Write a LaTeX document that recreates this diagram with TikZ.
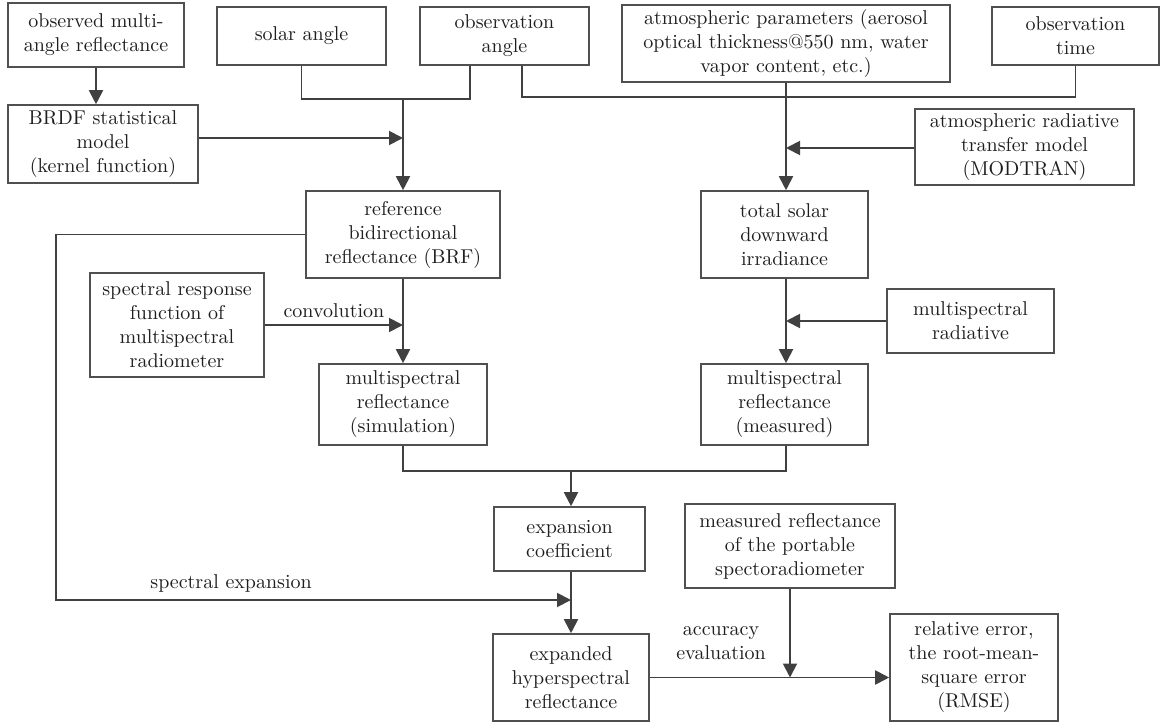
\documentclass[tikz,border=0pt]{standalone}
\usepackage{amsmath,amssymb}
\usepackage{tikz}
\usetikzlibrary{arrows.meta}
\tikzset{>={Triangle[length=7pt,width=7pt]}}
\usetikzlibrary{calc}
\definecolor{linegray}{HTML}{404040}
\definecolor{boxgray}{HTML}{505050}
\definecolor{textgray}{HTML}{1E1E1E}
\tikzset{
  box/.style={draw=boxgray, line width=0.8pt, align=center, inner sep=1pt, text=textgray},
  flow/.style={draw=linegray, line width=0.95pt},
  lbl/.style={text=textgray, align=center}
}

\begin{document}
\begin{tikzpicture}[x=0.5pt,y=-0.5pt]
    \useasboundingbox (0,0) rectangle (1167,722);
    \node[box, minimum width=88pt, minimum height=32pt] (obsrefl) at (96,35) {observed multi-\\angle reflectance};
    \node[box, minimum width=84.5pt, minimum height=29pt] (solar) at (301.5,36) {solar angle};
    \node[box, minimum width=84.5pt, minimum height=29pt] (obsang) at (504.5,36) {observation\\angle};
    \node[box, minimum width=164pt, minimum height=38.5pt] (atmpar) at (786,43.5) {atmospheric parameters (aerosol\\optical thickness@550 nm, water\\vapor content, etc.)};
    \node[box, minimum width=83.5pt, minimum height=29pt] (obstime) at (1075.5,36) {observation\\time};
    \node[box, minimum width=95pt, minimum height=39pt] (brdf) at (103,144) {BRDF statistical\\model\\(kernel function)};
    \node[box, minimum width=109.5pt, minimum height=38pt] (modtran) at (1024.5,147) {atmospheric radiative\\transfer model\\(MODTRAN)};
    \node[box, minimum width=97pt, minimum height=43.5pt] (brf) at (403,234.5) {reference\\bidirectional\\reflectance (BRF)};
    \node[box, minimum width=83.5pt, minimum height=43.5pt] (irr) at (784.5,234.5) {total solar\\downward\\irradiance};
    \node[box, minimum width=87pt, minimum height=52pt] (srf) at (177,325) {spectral response\\function of\\multispectral\\radiometer};
    \node[box, minimum width=83.5pt, minimum height=32pt] (msrad) at (970.5,321) {multispectral\\radiative};
    \node[box, minimum width=84pt, minimum height=40.5pt] (mssim) at (403,404.5) {multispectral\\reflectance\\(simulation)};
    \node[box, minimum width=83.5pt, minimum height=40.5pt] (msmeas) at (784.5,404.5) {multispectral\\reflectance\\(measured)};
    \node[box, minimum width=75.5pt, minimum height=32pt] (expcoef) at (569.5,539) {expansion\\coefficient};
    \node[box, minimum width=105pt, minimum height=42pt] (portable) at (790,546) {measured reflectance\\of the portable\\spectoradiometer};
    \node[box, minimum width=78pt, minimum height=43.5pt] (hyper) at (571,677.5) {expanded\\hyperspectral\\reflectance};
    \node[box, minimum width=84pt, minimum height=53.5pt] (rmse) at (974,667.5) {relative error,\\the root-mean-\\square error\\(RMSE)};
    \node[lbl] (acc) at (721,643) {accuracy\\evaluation};

    \coordinate (jbrf) at (403,99);
    \coordinate (jbrdf) at (403,138);
    \coordinate (jatm) at (786,97);
    \coordinate (jmod) at (786,148);
    \coordinate (jexp) at (571,471);
    \coordinate (jleft) at (56,600);
    \coordinate (jspec) at (571,600);

    \begin{scope}[flow]
      \draw[->] (obsrefl.south) -- (obsrefl.south |- brdf.north);
      \draw (solar.south) |- (jbrf) -| ($(obsang.south)+(-34.5,0)$);
      \draw[->] (jbrf) -- (brf.north);
      \draw[->] (brdf.east |- jbrdf) -- (jbrdf);
      \draw ($(obsang.south)+(17.5,0)$) |- (jatm) -| (obstime.south);
      \draw[->] (atmpar.south) -- (atmpar.south |- irr.north);
      \draw[->] (modtran.west |- jmod) -- (jmod);
      \draw[->] (brf.south) -- (mssim.north);
      \draw[->] (srf.east) -- (srf.east -| brf.south) node[midway, above, lbl]{convolution};
      \draw[->] (irr.south -| jatm) -- (jatm |- msmeas.north);
      \draw[->] (msrad.west) -- (msrad.west -| jatm);
      \draw (mssim.south) |- (jexp) -| (msmeas.south -| jatm);
      \draw[->] (jexp) -- (jexp |- expcoef.north);
      \draw (jexp |- expcoef.south) -- (jspec);
      \draw[->] (jspec) -- (jspec |- hyper.north);
      \draw[->] (brf.west) -| (jleft) -- (jspec) node[pos=0.34, above, lbl]{spectral expansion};
      \draw[->] (hyper.east) -- (hyper.east -| rmse.west);
      \draw[->] (portable.south) -- (portable.south |- hyper.east);
    \end{scope}
  \end{tikzpicture}
\end{document}
